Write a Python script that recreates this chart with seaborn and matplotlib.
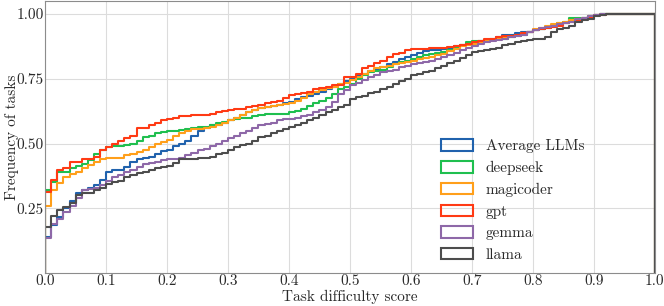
import numpy as np
import pandas as pd
import matplotlib
matplotlib.use("Agg")
import matplotlib.pyplot as plt
from matplotlib.patches import Patch
import seaborn as sns

# cumulative share of tasks at the end of each 0.01-wide difficulty bin
models = ['Average LLMs', 'deepseek', 'magicoder', 'gpt', 'gemma', 'llama']
colors = ['#2062ad', '#1fbf4f', '#ff9f1a', '#ff3a14', '#8e68a8', '#4d4d4d']

avg_llms = [0.14, 0.186, 0.215, 0.25, 0.28, 0.31, 0.32, 0.33, 0.34, 0.36,
            0.39, 0.40, 0.40, 0.41, 0.43, 0.44, 0.445, 0.45, 0.46, 0.47,
            0.475, 0.49, 0.50, 0.51, 0.53, 0.55, 0.56, 0.57, 0.57, 0.58,
            0.59, 0.60, 0.61, 0.62, 0.63, 0.638, 0.64, 0.645, 0.65, 0.655,
            0.66, 0.67, 0.68, 0.685, 0.69, 0.70, 0.71, 0.72, 0.73, 0.74,
            0.75, 0.76, 0.77, 0.78, 0.785, 0.795, 0.805, 0.815, 0.825, 0.835,
            0.842, 0.85, 0.855, 0.86, 0.862, 0.865, 0.87, 0.875, 0.88, 0.885,
            0.888, 0.895, 0.90, 0.905, 0.91, 0.917, 0.92, 0.925, 0.93, 0.932,
            0.936, 0.94, 0.945, 0.952, 0.96, 0.965, 0.972, 0.978, 0.985, 0.99,
            0.995, 1.0, 1.0, 1.0, 1.0, 1.0, 1.0, 1.0, 1.0, 1.0]
deepseek = [0.32, 0.353, 0.39, 0.39, 0.404, 0.413, 0.42, 0.436, 0.46, 0.477,
            0.485, 0.49, 0.49, 0.495, 0.50, 0.51, 0.526, 0.53, 0.54, 0.545,
            0.55, 0.55, 0.552, 0.555, 0.56, 0.564, 0.565, 0.57, 0.58, 0.585,
            0.59, 0.595, 0.60, 0.60, 0.605, 0.61, 0.615, 0.615, 0.615, 0.615,
            0.62, 0.625, 0.635, 0.645, 0.655, 0.665, 0.675, 0.69, 0.71, 0.72,
            0.73, 0.75, 0.765, 0.775, 0.78, 0.785, 0.795, 0.805, 0.815, 0.82,
            0.827, 0.835, 0.84, 0.845, 0.85, 0.853, 0.86, 0.87, 0.88, 0.89,
            0.894, 0.895, 0.897, 0.90, 0.902, 0.904, 0.91, 0.915, 0.92, 0.93,
            0.936, 0.942, 0.95, 0.955, 0.965, 0.97, 0.985, 0.985, 0.985, 0.99,
            0.994, 0.998, 1.0, 1.0, 1.0, 1.0, 1.0, 1.0, 1.0, 1.0]
magicoder = [0.259, 0.32, 0.349, 0.37, 0.382, 0.39, 0.404, 0.417, 0.43, 0.442,
             0.446, 0.446, 0.446, 0.455, 0.46, 0.468, 0.477, 0.487, 0.497, 0.506,
             0.515, 0.53, 0.54, 0.55, 0.555, 0.558, 0.56, 0.565, 0.57, 0.58,
             0.59, 0.60, 0.61, 0.62, 0.63, 0.638, 0.64, 0.645, 0.65, 0.652,
             0.655, 0.665, 0.675, 0.69, 0.70, 0.708, 0.715, 0.72, 0.73, 0.735,
             0.744, 0.755, 0.77, 0.78, 0.79, 0.797, 0.80, 0.805, 0.81, 0.815,
             0.82, 0.825, 0.83, 0.835, 0.84, 0.846, 0.855, 0.865, 0.875, 0.88,
             0.885, 0.89, 0.895, 0.90, 0.905, 0.91, 0.915, 0.92, 0.925, 0.93,
             0.94, 0.945, 0.955, 0.96, 0.965, 0.97, 0.975, 0.98, 0.985, 0.99,
             0.995, 1.0, 1.0, 1.0, 1.0, 1.0, 1.0, 1.0, 1.0, 1.0]
gpt = [0.314, 0.36, 0.40, 0.405, 0.43, 0.43, 0.44, 0.44, 0.45, 0.475,
       0.487, 0.50, 0.51, 0.52, 0.53, 0.56, 0.56, 0.57, 0.58, 0.59,
       0.595, 0.60, 0.605, 0.605, 0.61, 0.61, 0.612, 0.615, 0.62, 0.625,
       0.628, 0.632, 0.635, 0.64, 0.645, 0.65, 0.655, 0.66, 0.665, 0.675,
       0.686, 0.69, 0.695, 0.70, 0.71, 0.715, 0.72, 0.725, 0.725, 0.755,
       0.755, 0.77, 0.79, 0.80, 0.81, 0.82, 0.835, 0.845, 0.85, 0.86,
       0.865, 0.865, 0.865, 0.868, 0.868, 0.87, 0.872, 0.878, 0.88, 0.885,
       0.89, 0.895, 0.905, 0.905, 0.91, 0.913, 0.915, 0.92, 0.925, 0.93,
       0.936, 0.94, 0.945, 0.95, 0.955, 0.965, 0.97, 0.975, 0.98, 0.988,
       0.994, 0.997, 1.0, 1.0, 1.0, 1.0, 1.0, 1.0, 1.0, 1.0]
gemma = [0.135, 0.19, 0.21, 0.235, 0.26, 0.29, 0.32, 0.325, 0.33, 0.34,
         0.355, 0.37, 0.38, 0.39, 0.40, 0.41, 0.42, 0.425, 0.43, 0.435,
         0.44, 0.44, 0.445, 0.455, 0.465, 0.475, 0.48, 0.49, 0.50, 0.51,
         0.52, 0.53, 0.54, 0.55, 0.56, 0.57, 0.575, 0.58, 0.59, 0.595,
         0.596, 0.60, 0.605, 0.61, 0.62, 0.628, 0.64, 0.66, 0.69, 0.705,
         0.724, 0.735, 0.745, 0.755, 0.765, 0.776, 0.78, 0.785, 0.795, 0.80,
         0.805, 0.81, 0.815, 0.82, 0.825, 0.833, 0.84, 0.85, 0.86, 0.87,
         0.878, 0.885, 0.89, 0.895, 0.90, 0.904, 0.91, 0.915, 0.92, 0.93,
         0.936, 0.945, 0.95, 0.955, 0.96, 0.965, 0.97, 0.98, 0.985, 0.99,
         0.995, 1.0, 1.0, 1.0, 1.0, 1.0, 1.0, 1.0, 1.0, 1.0]
llama = [0.18, 0.22, 0.245, 0.255, 0.27, 0.30, 0.31, 0.31, 0.32, 0.33,
         0.345, 0.35, 0.355, 0.37, 0.38, 0.385, 0.39, 0.40, 0.405, 0.41,
         0.415, 0.425, 0.44, 0.44, 0.44, 0.445, 0.445, 0.45, 0.46, 0.465,
         0.475, 0.485, 0.495, 0.50, 0.51, 0.525, 0.53, 0.54, 0.55, 0.555,
         0.564, 0.57, 0.58, 0.59, 0.60, 0.609, 0.62, 0.63, 0.64, 0.65,
         0.673, 0.68, 0.685, 0.695, 0.70, 0.712, 0.72, 0.73, 0.74, 0.75,
         0.763, 0.77, 0.775, 0.78, 0.79, 0.80, 0.81, 0.82, 0.83, 0.84,
         0.853, 0.855, 0.86, 0.865, 0.87, 0.88, 0.885, 0.89, 0.895, 0.90,
         0.904, 0.905, 0.91, 0.93, 0.94, 0.946, 0.955, 0.97, 0.975, 0.98,
         0.99, 0.995, 1.0, 1.0, 1.0, 1.0, 1.0, 1.0, 1.0, 1.0]

series = [avg_llms, deepseek, magicoder, gpt, gemma, llama]

x_ticks = [0.0, 0.1, 0.2, 0.3, 0.4, 0.5, 0.6, 0.7, 0.8, 0.9, 1.0]
y_ticks = [0.25, 0.50, 0.75, 1.00]

sns.set_style('whitegrid', {'axes.edgecolor': '#8c8c8c', 'grid.color': '#dcdcdc',
                            'xtick.bottom': False, 'ytick.left': False})
plt.rcParams['font.family'] = 'serif'
plt.rcParams['font.serif'] = ['cmr10', 'DejaVu Serif']
plt.rcParams['axes.formatter.use_mathtext'] = True

n_bins = len(avg_llms)
centers = (np.arange(n_bins) + 0.5) / n_bins

fig, ax = plt.subplots(figsize=(6.64, 3.06), dpi=100)
fig.subplots_adjust(left=0.068, right=0.986, bottom=0.107, top=0.997)

for name, cum, col in zip(models, series, colors):
    cum = np.asarray(cum)
    df = pd.DataFrame({'score': centers, 'w': np.diff(cum, prepend=0.0)})
    sns.histplot(data=df, x='score', weights='w', bins=n_bins, binrange=(0, 1),
                 cumulative=True, element='step', fill=False, stat='count',
                 color=col, linewidth=1.5, ax=ax)
    # closing edges of the step outline
    ax.plot([0, 0], [0, cum[0]], color=col, lw=1.5)
    ax.plot([1, 1], [0, cum[-1]], color=col, lw=1.5)

ax.set_xlim(0, 1)
ax.set_ylim(0, 1.05)
ax.set_xticks(x_ticks)
ax.set_xticklabels([f'{t:.1f}' for t in x_ticks])
ax.set_yticks(y_ticks)
ax.set_yticklabels([f'{t:.2f}' for t in y_ticks])
ax.tick_params(labelsize=11, colors='#2a2a2a', length=0, pad=1)
ax.set_xlabel('Task difficulty score', fontsize=11, color='#2a2a2a')
ax.set_ylabel('Frequency of tasks', fontsize=11, color='#2a2a2a')
ax.xaxis.set_label_coords(0.5, -0.062)
ax.yaxis.set_label_coords(-0.043, 0.5)

handles = [Patch(facecolor='none', edgecolor=c, linewidth=1.5) for c in colors]
ax.legend(handles, models, loc='lower left', bbox_to_anchor=(0.649, 0.042),
          frameon=False, fontsize=11, borderpad=0, borderaxespad=0,
          handlelength=2.1, handleheight=0.75, handletextpad=0.85,
          labelspacing=0.5, labelcolor='#2a2a2a')

fig.savefig('out.png', dpi=100)
